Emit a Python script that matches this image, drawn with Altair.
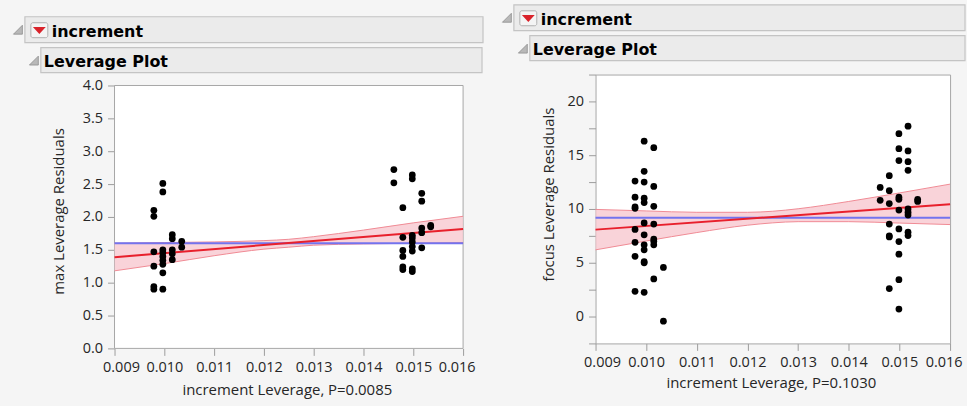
import altair as alt
import pandas as pd

BG = "#f5f5f5"
FONT = "Open Sans"
TXT = "#262626"

# ---------------- max: leverage plot data ----------------
max_x = [0.00979, 0.00979, 0.00979, 0.00979, 0.00979, 0.00979,
         0.00997, 0.00997, 0.00997, 0.00997, 0.00997, 0.00997, 0.00997, 0.00997, 0.00997,
         0.01016, 0.01016, 0.01016, 0.01016, 0.01016,
         0.01035, 0.01035,
         0.01461, 0.01461,
         0.01479, 0.01479, 0.01479, 0.01479, 0.01479, 0.01479,
         0.01498, 0.01498, 0.01498, 0.01498, 0.01498, 0.01498, 0.01498, 0.01498, 0.01498,
         0.01517, 0.01517, 0.01517, 0.01517, 0.01517,
         0.01535, 0.01535]
max_y = [2.10, 2.01, 1.47, 1.25, 0.94, 0.90,
         2.51, 2.38, 1.50, 1.46, 1.40, 1.34, 1.28, 1.15, 0.90,
         1.73, 1.67, 1.50, 1.44, 1.35,
         1.63, 1.54,
         2.72, 2.52,
         2.14, 1.69, 1.49, 1.40, 1.24, 1.20,
         2.64, 2.58, 1.72, 1.68, 1.62, 1.55, 1.48, 1.21, 1.17,
         2.36, 2.24, 1.83, 1.76, 1.53,
         1.87, 1.85]

# ---------------- focus: leverage plot data ----------------
focus_x = [0.00978, 0.00978, 0.00978, 0.00978, 0.00978, 0.00978, 0.00978, 0.00978,
           0.00996, 0.00996, 0.00996, 0.00996, 0.00996, 0.00996, 0.00996, 0.00996,
           0.00996, 0.00996, 0.00996, 0.00996,
           0.01015, 0.01015, 0.01015, 0.01015, 0.01015, 0.01015, 0.01015, 0.01015,
           0.01034, 0.01034,
           0.01462, 0.01462,
           0.01480, 0.01480, 0.01480, 0.01480, 0.01480, 0.01480, 0.01480,
           0.01499, 0.01499, 0.01499, 0.01499, 0.01499, 0.01499, 0.01499, 0.01499,
           0.01499, 0.01499, 0.01499,
           0.01517, 0.01517, 0.01517, 0.01517, 0.01517, 0.01517, 0.01517, 0.01517, 0.01517,
           0.01536, 0.01536]
focus_y = [12.6, 11.1, 10.2, 10.06, 8.1, 6.9, 5.6, 2.35,
           16.3, 13.5, 12.5, 11.0, 10.6, 8.7, 7.6, 6.67,
           6.2, 5.1, 5.0, 2.25,
           15.7, 12.1, 10.25, 8.6, 7.2, 7.0, 6.67, 3.5,
           4.57, -0.43,
           12.0, 10.8,
           13.1, 11.7, 10.5, 8.6, 7.5, 7.4, 2.6,
           17.0, 15.6, 14.5, 11.1, 10.9, 9.9, 8.15, 6.97,
           5.8, 3.43, 0.7,
           17.7, 15.4, 14.4, 13.6, 10.0, 9.7, 9.44, 7.84, 7.53,
           10.9, 10.7]

# fitted line, mean line and confidence band of the fit
fit_x = [0.009, 0.016]
max_fit = [1.388, 1.818]
focus_fit = [8.08, 10.43]
max_mean = [1.60]
focus_mean = [9.19]

band_x = [0.009, 0.010, 0.011, 0.012, 0.0125, 0.013, 0.014, 0.015, 0.016]
max_lo = [1.18, 1.29, 1.41, 1.51, 1.54, 1.57, 1.59, 1.60, 1.61]
max_hi = [1.60, 1.61, 1.62, 1.64, 1.66, 1.70, 1.80, 1.91, 2.01]
focus_lo = [6.20, 7.02, 7.81, 8.49, 8.71, 8.82, 8.82, 8.69, 8.55]
focus_hi = [9.96, 9.82, 9.69, 9.69, 9.79, 10.02, 10.70, 11.49, 12.31]

x_ticks = [0.009, 0.010, 0.011, 0.012, 0.013, 0.014, 0.015, 0.016]
max_ticks = [0.0, 0.5, 1.0, 1.5, 2.0, 2.5, 3.0, 3.5, 4.0]
focus_ticks = [-2.5, 0, 2.5, 5, 7.5, 10, 12.5, 15, 17.5, 20, 22.5]

one = pd.DataFrame({"k": [0]})


def header(dx, dy, right1, right2):
    """Outline-style report headers drawn above a plot (pixel offsets from the plot origin)."""
    def box(x1, x2, y1, y2):
        return alt.Chart(one).mark_rect(fill="#ebebeb", stroke="#c4c4c4", strokeWidth=1.2).encode(
            x=alt.value(x1), x2=alt.value(x2), y=alt.value(y1), y2=alt.value(y2))

    def disclosure(x, y):
        return alt.Chart(one).mark_point(
            shape="M1,-1L1,1L-1,1Z", size=80, filled=True, fill="#b8b8b8",
            stroke="#8c8c8c", strokeWidth=0.8, opacity=1).encode(x=alt.value(x), y=alt.value(y))

    def label(x, y, s):
        return alt.Chart(one).mark_text(
            text=s, font="DejaVu Sans", fontWeight="bold", fontSize=16, align="left",
            baseline="alphabetic", color="#000000").encode(x=alt.value(x), y=alt.value(y))

    button = alt.Chart(one).mark_rect(
        fill="#f4f4f4", stroke="#b0b0b0", strokeWidth=1, cornerRadius=2).encode(
        x=alt.value(-84 + dx), x2=alt.value(-67 + dx), y=alt.value(-52 + dy), y2=alt.value(-37 + dy))
    arrow = alt.Chart(one).mark_point(
        shape="M-1,-0.55L1,-0.55L0,0.55Z", size=70, filled=True, fill="#d9232b",
        stroke="#d9232b", opacity=1).encode(x=alt.value(-75.5 + dx), y=alt.value(-44.5 + dy))
    return [
        box(-90 + dx, right1, -58 + dy, -32 + dy),
        disclosure(-97 + dx, -45 + dy),
        button, arrow,
        label(-63 + dx, -38 + dy, "increment"),
        box(-74 + dx, right2, -27 + dy, -2 + dy),
        disclosure(-81 + dx, -14 + dy),
        label(-71 + dx, -8 + dy, "Leverage Plot"),
    ]


def corner(x, y):
    # tiny background-coloured cell fixing the extent of the drawing
    return alt.Chart(one).mark_rect(fill=BG).encode(
        x=alt.value(x), x2=alt.value(x + 1), y=alt.value(y), y2=alt.value(y + 1))


def leverage_layers(px, py, lo, hi, fit, mean, xs, ys):
    pts = pd.DataFrame({"x": px, "y": py})
    band = pd.DataFrame({"x": band_x, "y": lo, "y2": hi})
    lo_df = pd.DataFrame({"x": band_x, "y": lo})
    hi_df = pd.DataFrame({"x": band_x, "y": hi})
    fitdf = pd.DataFrame({"x": fit_x, "y": fit})
    meandf = pd.DataFrame({"y": mean})
    area = alt.Chart(band).mark_area(color="#f8c8cf", opacity=0.8, interpolate="monotone").encode(
        x=xs, y=ys, y2="y2:Q")
    lo_line = alt.Chart(lo_df).mark_line(color="#f08a94", strokeWidth=1, interpolate="monotone").encode(
        x=xs, y=ys)
    hi_line = alt.Chart(hi_df).mark_line(color="#f08a94", strokeWidth=1, interpolate="monotone").encode(
        x=xs, y=ys)
    mean_rule = alt.Chart(meandf).mark_rule(color="#7373ee", strokeWidth=2).encode(y=ys)
    fit_line = alt.Chart(fitdf).mark_line(color="#e8202c", strokeWidth=2).encode(x=xs, y=ys)
    dots = alt.Chart(pts).mark_circle(size=46, color="#000000", opacity=1).encode(x=xs, y=ys)
    return [area, lo_line, hi_line, mean_rule, fit_line, dots]


def x_enc(title, tx, ty):
    return alt.X(
        "x:Q",
        scale=alt.Scale(domain=[0.009, 0.016], nice=False, zero=False),
        axis=alt.Axis(values=x_ticks, format=".3f", title=title, labelFlush=True,
                      labelFlushOffset=12, titleX=tx, titleY=ty, titleBaseline="middle",
                      labelPadding=5, tickSize=7))


# ---------------- left panel ----------------
LW, LH = 350, 275
max_x_enc = x_enc("increment Leverage, P=0.0085", 173, 41)
max_y_enc = alt.Y(
    "y:Q",
    scale=alt.Scale(domain=[0, 4.1667], nice=False, zero=False),
    axis=alt.Axis(values=max_ticks, format=".1f", title="max Leverage Residuals",
                  titleX=-56, titleY=137, titleBaseline="middle", labelFlush=False,
                  labelPadding=5, tickSize=7))
frame = pd.DataFrame({"x": [0.009], "x2": [0.016], "y": [0.0], "y2": [4.0]})
max_frame = alt.Chart(frame).mark_rect(fill="white", stroke="#a6a6a6", strokeWidth=1).encode(
    x=max_x_enc, x2="x2:Q", y=max_y_enc, y2="y2:Q")

left = alt.layer(
    corner(-114, -73),
    max_frame,
    *leverage_layers(max_x, max_y, max_lo, max_hi, max_fit, max_mean, max_x_enc, max_y_enc),
    *header(0, 0, 370, 369),
).properties(width=LW, height=LH,
             view=alt.ViewBackground(fill="transparent", stroke="transparent"))

# ---------------- right panel ----------------
RW, RH = 356, 270
focus_x_enc = x_enc("increment Leverage, P=0.1030", 176, 39)
focus_y_enc = alt.Y(
    "y:Q",
    scale=alt.Scale(domain=[-2.5, 22.5], nice=False, zero=False),
    axis=alt.Axis(values=focus_ticks, title="focus Leverage Residuals",
                  labelExpr="datum.value % 5 == 0 ? datum.label : ''",
                  titleX=-47, titleY=120, titleBaseline="middle", labelFlush=False,
                  labelPadding=5, tickSize=7))

right = alt.layer(
    *leverage_layers(focus_x, focus_y, focus_lo, focus_hi, focus_fit, focus_mean,
                     focus_x_enc, focus_y_enc),
    *header(8, -12, 371, 371),
    corner(369, 331),
).properties(width=RW, height=RH,
             view=alt.ViewBackground(fill="white", stroke="#a6a6a6", strokeWidth=1))

chart = alt.hconcat(left, right, spacing=133, bounds="flush").properties(
    padding=0, background=BG
).configure_axis(
    labelFont=FONT, labelFontSize=14.5, labelColor=TXT,
    titleFont=FONT, titleFontSize=15, titleFontWeight="normal", titleColor=TXT,
    tickColor="#9c9c9c", domain=False, grid=False,
)

chart.save("out.html", embed_options={"renderer": "svg", "actions": False})
